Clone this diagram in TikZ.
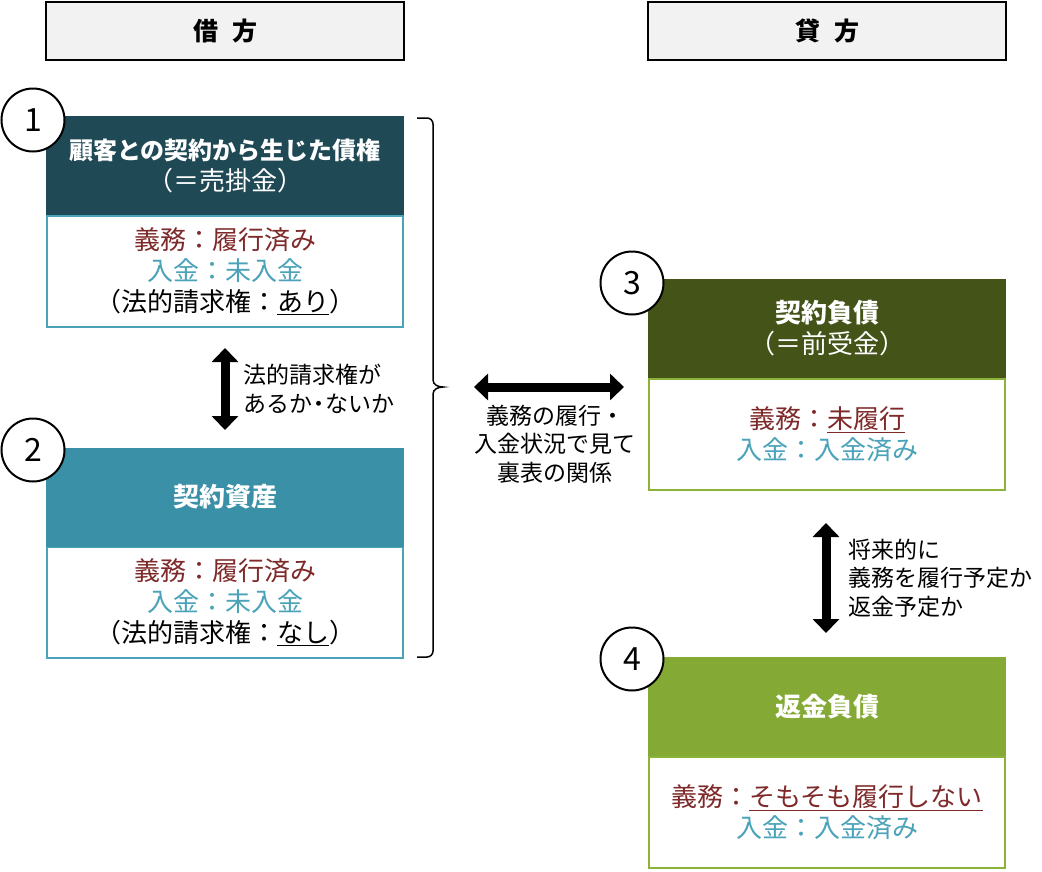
\documentclass[tikz,border=0pt]{standalone}
\usepackage{fontspec}
\setmainfont{Noto Sans CJK JP}
\usepackage{tikz}
\usetikzlibrary{arrows.meta}

\definecolor{sidegray}{HTML}{F2F2F2}
\definecolor{recvhead}{HTML}{1F4955}
\definecolor{assethead}{HTML}{3A90A6}
\definecolor{tealline}{HTML}{4AA3B8}
\definecolor{liabhead}{HTML}{445419}
\definecolor{refundhead}{HTML}{84AA35}
\definecolor{greenline}{HTML}{8BB33A}
\definecolor{dutyred}{HTML}{7F2A2A}
\definecolor{paytext}{HTML}{4AA3B8}

\begin{document}
\begin{tikzpicture}[x=1pt,y=-1pt,
	side/.style={draw=black,line width=2pt,fill=sidegray,minimum width=358pt,minimum height=58pt,font=\fontsize{25}{28}\selectfont\bfseries},
	head/.style={fill=#1,minimum width=358pt,minimum height=99pt,inner sep=0pt,text=white,align=center,font=\fontsize{26}{31}\selectfont},
	body/.style={draw=#1,line width=2pt,fill=white,minimum width=356pt,minimum height=111pt,inner sep=0pt,align=center,font=\fontsize{26}{31}\selectfont},
	num/.style={shape=circle,draw=black,line width=2pt,fill=white,minimum size=63pt,inner sep=0pt,font=\fontsize{32}{32}\selectfont},
	bigarrow/.style={line width=9pt,{Triangle[width=26pt,length=14pt]}-{Triangle[width=26pt,length=14pt]}},
	note/.style={inner sep=0pt,font=\fontsize{23}{28.5}\selectfont}]
	\useasboundingbox (0,0) rectangle (1042,871);

	\node[side] (debit)  at (225, 31) {借\hspace{14pt}方};
	\node[side] (credit) at (827, 31) {貸\hspace{14pt}方};

	\node[body=tealline]  (b1) at (225, 271.5) {\textcolor{dutyred}{義務：履行済み}\\\textcolor{paytext}{入金：未入金}\\（法的請求権：\underline{あり}）};
	\node[head=recvhead]  (h1) at (225, 165.5) {{\fontsize{24}{31}\selectfont\bfseries 顧客との契約から生じた債権}\\（＝売掛金）};
	\node[body=tealline]  (b2) at (225, 602.5) {\textcolor{dutyred}{義務：履行済み}\\\textcolor{paytext}{入金：未入金}\\（法的請求権：\underline{なし}）};
	\node[head=assethead] (h2) at (225, 497)   {\bfseries 契約資産};
	\node[body=greenline] (b3) at (827, 434)   {\textcolor{dutyred}{義務：\underline{未履行}}\\\textcolor{paytext}{入金：入金済み}};
	\node[head=liabhead]  (h3) at (827, 328.5) {{\bfseries 契約負債}\\（＝前受金）};
	\node[body=greenline] (b4) at (827, 812.5) {\textcolor{dutyred}{義務：\underline{そもそも履行しない}}\\\textcolor{paytext}{入金：入金済み}};
	\node[head=refundhead] (h4) at (827, 706.5) {\bfseries 返金負債};

	\node[num] (n1) at (33, 120)  {1};
	\node[num] (n2) at (33, 450)  {2};
	\node[num] (n3) at (632, 283) {3};
	\node[num] (n4) at (632, 659) {4};

	\draw[line width=1.5pt] (417,118) -- (427,118) to[out=0,in=90] (433,124) -- (433,380)
		to[out=-90,in=180] (443,387) to[out=180,in=90] (433,394) -- (433,651)
		to[out=-90,in=0] (427,657) -- (417,657);

	\coordinate (legtop) at (225,348);
	\coordinate (legbot) at (225,430);
	\coordinate (mirl) at (474,387);
	\coordinate (mirr) at (624,387);
	\coordinate (futtop) at (826,523);
	\coordinate (futbot) at (826,633);

	\draw[bigarrow] (legtop) -- (legbot);
	\draw[bigarrow] (mirl) -- (mirr);
	\draw[bigarrow] (futtop) -- (futbot);

	\node[note,anchor=west,align=left]  (l1) at (243, 389) {法的請求権が\\あるか\kern-5pt・\kern-5ptないか};
	\node[note,align=center]            (l2) at (555, 444) {義務の履行・\\入金状況で見て\\裏表の関係};
	\node[note,anchor=west,align=left]  (l3) at (848, 578) {将来的に\\義務を履行予定か\\返金予定か};
\end{tikzpicture}
\end{document}
